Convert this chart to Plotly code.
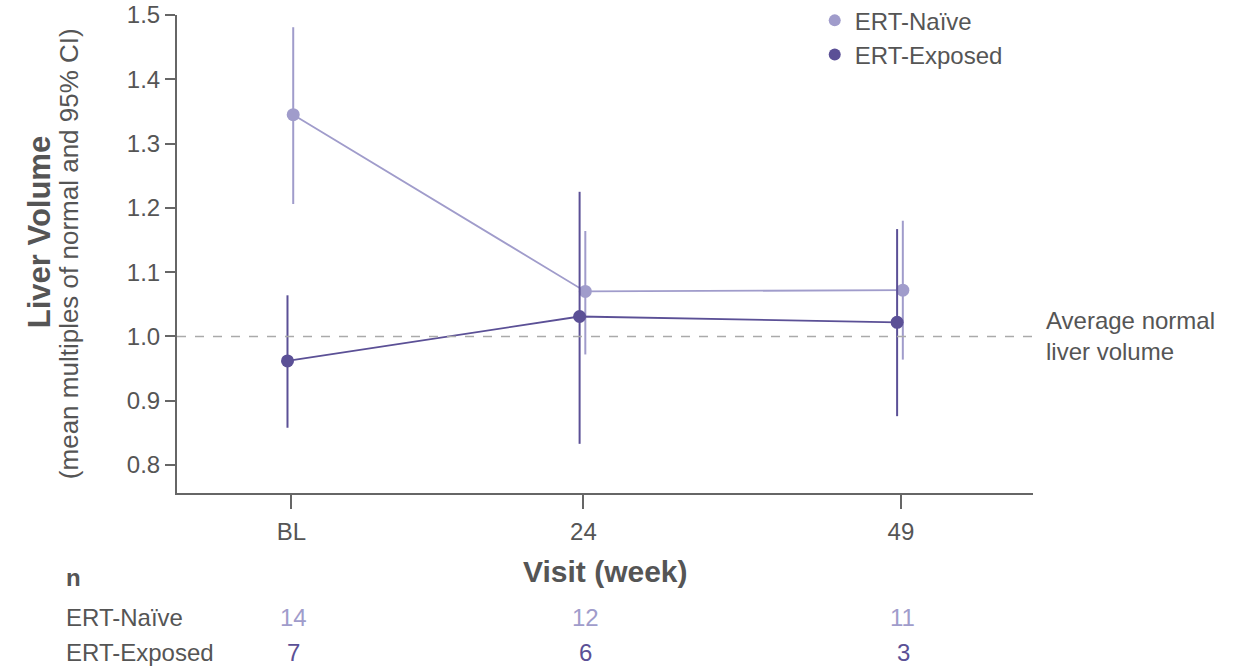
import plotly.graph_objects as go

# ---- data ----
visit_labels = ["BL", "24", "49"]
visit_weeks = [1, 24, 49]

naive_mean = [1.345, 1.070, 1.072]
naive_upper = [1.481, 1.164, 1.180]
naive_lower = [1.206, 0.972, 0.964]

exposed_mean = [0.962, 1.031, 1.022]
exposed_upper = [1.064, 1.225, 1.167]
exposed_lower = [0.858, 0.833, 0.876]

naive_n = [14, 12, 11]
exposed_n = [7, 6, 3]

reference_value = 1.0

NAIVE_COLOR = "#a09ccb"
EXPOSED_COLOR = "#5b5096"
TEXT_COLOR = "#555555"
AXIS_COLOR = "#666666"
FONT = "Liberation Sans, Arial, sans-serif"

naive_x = [w + 0.15 for w in visit_weeks]
exposed_x = [w - 0.3 for w in visit_weeks]

fig = go.Figure()

fig.add_hline(y=reference_value, line=dict(color="#aaaaaa", width=1.5, dash="dash"))

fig.add_trace(go.Scatter(
    x=naive_x, y=naive_mean, mode="lines+markers", showlegend=False,
    line=dict(color=NAIVE_COLOR, width=1.8),
    marker=dict(color=NAIVE_COLOR, size=13),
    error_y=dict(type="data", symmetric=False,
                 array=[u - m for u, m in zip(naive_upper, naive_mean)],
                 arrayminus=[m - l for m, l in zip(naive_mean, naive_lower)],
                 color=NAIVE_COLOR, thickness=2, width=0),
))
fig.add_trace(go.Scatter(
    x=exposed_x, y=exposed_mean, mode="lines+markers", showlegend=False,
    line=dict(color=EXPOSED_COLOR, width=1.8),
    marker=dict(color=EXPOSED_COLOR, size=13),
    error_y=dict(type="data", symmetric=False,
                 array=[u - m for u, m in zip(exposed_upper, exposed_mean)],
                 arrayminus=[m - l for m, l in zip(exposed_mean, exposed_lower)],
                 color=EXPOSED_COLOR, thickness=2, width=0),
))

# legend-only traces (dot only)
fig.add_trace(go.Scatter(x=[None], y=[None], mode="markers", name="ERT-Naïve",
                         legendgroup="a",
                         marker=dict(color=NAIVE_COLOR, size=12)))
fig.add_trace(go.Scatter(x=[None], y=[None], mode="markers", name="ERT-Exposed",
                         legendgroup="b",
                         marker=dict(color=EXPOSED_COLOR, size=12)))

annotations = []
# reference line label
annotations.append(dict(xref="paper", yref="y", x=1.013, y=reference_value,
                        text="Average normal<br>liver volume", showarrow=False,
                        xanchor="left", yanchor="middle", align="left",
                        font=dict(size=24, color=TEXT_COLOR, family=FONT)))
# y-axis titles
annotations.append(dict(xref="paper", yref="paper", x=-0.161, y=0.546,
                        text="<b>Liver Volume</b>", showarrow=False, textangle=-90,
                        xanchor="center", yanchor="middle",
                        font=dict(size=31, color=TEXT_COLOR, family=FONT)))
annotations.append(dict(xref="paper", yref="paper", x=-0.126, y=0.5,
                        text="(mean multiples of normal and 95% CI)", showarrow=False,
                        textangle=-90, xanchor="center", yanchor="middle",
                        font=dict(size=26, color=TEXT_COLOR, family=FONT)))
# n table
annotations.append(dict(xref="paper", yref="paper", x=-0.132, y=-0.176,
                        text="<b>n</b>", showarrow=False, xanchor="left", yanchor="middle",
                        font=dict(size=24, color=TEXT_COLOR, family=FONT)))
annotations.append(dict(xref="paper", yref="paper", x=-0.132, y=-0.26,
                        text="ERT-Naïve", showarrow=False, xanchor="left", yanchor="middle",
                        font=dict(size=24, color=TEXT_COLOR, family=FONT)))
annotations.append(dict(xref="paper", yref="paper", x=-0.132, y=-0.334,
                        text="ERT-Exposed", showarrow=False, xanchor="left", yanchor="middle",
                        font=dict(size=24, color=TEXT_COLOR, family=FONT)))
for w, nn, ne in zip(visit_weeks, naive_n, exposed_n):
    annotations.append(dict(xref="x", yref="paper", x=w + 0.15, y=-0.26, text=str(nn),
                            showarrow=False, xanchor="center", yanchor="middle",
                            font=dict(size=24, color=NAIVE_COLOR, family=FONT)))
    annotations.append(dict(xref="x", yref="paper", x=w + 0.2, y=-0.334, text=str(ne),
                            showarrow=False, xanchor="center", yanchor="middle",
                            font=dict(size=24, color=EXPOSED_COLOR, family=FONT)))
# x-axis title
annotations.append(dict(xref="paper", yref="paper", x=0.5, y=-0.165,
                        text="<b>Visit (week)</b>", showarrow=False,
                        xanchor="center", yanchor="middle",
                        font=dict(size=30, color=TEXT_COLOR, family=FONT)))

fig.update_layout(
    width=1243, height=667,
    margin=dict(l=177, r=210, t=15, b=174, autoexpand=False),
    paper_bgcolor="white", plot_bgcolor="white",
    font=dict(family=FONT, size=24, color=TEXT_COLOR),
    showlegend=True,
    legend=dict(x=0.745, y=1.035, xanchor="left", yanchor="top",
                bgcolor="rgba(0,0,0,0)", font=dict(size=24, color=TEXT_COLOR),
                itemwidth=30, tracegroupgap=0),
    annotations=annotations,
    xaxis=dict(range=[-8, 59.4], tickmode="array", tickvals=visit_weeks,
               ticktext=visit_labels, showgrid=False, zeroline=False,
               showline=True, linecolor=AXIS_COLOR, linewidth=2,
               ticks="outside", ticklen=14, tickwidth=1.5, tickcolor=AXIS_COLOR,
               ticklabelstandoff=2,
               tickfont=dict(size=24, color=TEXT_COLOR, family=FONT)),
    yaxis=dict(range=[0.7565, 1.5], tickmode="array",
               tickvals=[0.8, 0.9, 1.0, 1.1, 1.2, 1.3, 1.4, 1.5],
               ticktext=["0.8", "0.9", "1.0", "1.1", "1.2", "1.3", "1.4", "1.5"],
               showgrid=False, zeroline=False, showline=True,
               linecolor=AXIS_COLOR, linewidth=2,
               ticks="outside", ticklen=10, tickwidth=1.5, tickcolor=AXIS_COLOR,
               ticklabelstandoff=0,
               tickfont=dict(size=24, color=TEXT_COLOR, family=FONT)),
)

fig.write_html("out.html")
